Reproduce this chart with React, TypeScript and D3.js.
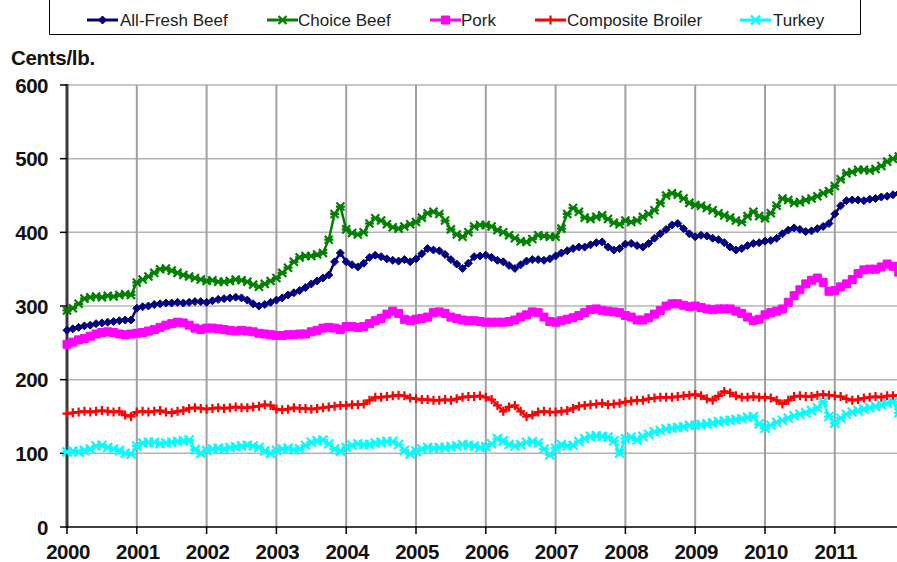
import React from "react";
import * as d3 from "d3";

const seriesNames = ["All-Fresh Beef", "Choice Beef", "Pork", "Composite Broiler", "Turkey"];
const yearTicks = [2000, 2001, 2002, 2003, 2004, 2005, 2006, 2007, 2008, 2009, 2010, 2011];
const yTicks = [0, 100, 200, 300, 400, 500, 600];

const allFreshBeef = [
  267, 269, 271, 273, 274, 276, 277, 278, 279, 280, 281, 281,
  297, 299, 300, 302, 303, 304, 304, 305, 304, 305, 306, 306,
  305, 307, 309, 310, 311, 312, 311, 308, 303, 300, 302, 305,
  308, 311, 315, 318, 321, 325, 330, 334, 338, 342, 360, 372,
  360, 356, 353, 358, 366, 369, 367, 364, 362, 361, 363, 360,
  364, 371, 378, 376, 375, 370, 363, 357, 351, 358, 367, 368,
  369, 366, 362, 360, 355, 351, 356, 361, 363, 363, 362, 364,
  368, 372, 375, 378, 380, 380, 383, 386, 387, 380, 376, 378,
  384, 385, 382, 380, 385, 392, 398, 404, 410, 412, 405, 398,
  394, 396, 395, 392, 390, 386, 380, 376, 378, 382, 385, 386,
  388, 389, 392, 398, 403, 406, 404, 401, 402, 405, 408, 412,
  425, 436, 443, 444, 444, 443, 445, 446, 448, 449, 451, 453,
];
const choiceBeef = [
  294, 297, 303, 310, 312, 313, 312, 314, 313, 315, 316, 315,
  332, 336, 340, 345, 350, 351, 348, 345, 342, 340, 338, 336,
  334, 335, 333, 333, 334, 336, 335, 333, 329, 326, 330, 334,
  338, 345, 352, 360, 366, 368, 368, 370, 372, 390, 425, 435,
  404, 399, 397, 400, 412, 419, 416, 411, 407, 405, 408, 411,
  414, 420, 426, 428, 425, 416, 404, 397, 394, 400, 408, 410,
  410, 408, 403, 400, 396, 392, 388, 387, 391, 396, 395, 394,
  394, 405, 425, 433, 428, 420, 418, 421, 423, 418, 413, 411,
  416, 414, 416, 421, 425, 430, 440, 450, 453, 451, 446, 440,
  437, 436, 433, 430, 426, 423, 420, 416, 414, 422, 428, 422,
  419, 426, 436, 446, 444, 440, 441, 444, 446, 449, 453, 456,
  463, 472, 480, 482, 485, 485, 484, 486, 490, 496, 500, 503,
];
const pork = [
  248, 251, 254, 256, 259, 262, 264, 265, 264, 262, 261, 262,
  263, 264, 266, 268, 271, 274, 276, 278, 277, 274, 270, 268,
  270, 270, 269, 268, 267, 266, 267, 266, 265, 263, 262, 261,
  260, 260, 261, 261, 262, 262, 265, 267, 270, 271, 270, 268,
  272, 272, 271, 272, 276, 280, 283, 289, 293, 290, 282, 280,
  282, 283, 285, 291, 292, 290, 285, 283, 281, 280, 280, 279,
  278, 278, 278, 278, 279, 281, 285, 288, 292, 291, 285, 279,
  278, 280, 282, 284, 287, 291, 295, 296, 294, 293, 292, 291,
  287, 285, 281, 281, 284, 289, 294, 300, 303, 303, 301, 299,
  300, 298, 296, 295, 296, 296, 296, 293, 290, 285, 280, 282,
  288, 291, 293, 296, 305, 314, 322, 330, 335, 338, 332, 320,
  321, 326, 330, 336, 344, 349, 350, 350, 353, 357, 354, 346,
];
const compositeBroiler = [
  154, 155, 156, 157, 156, 157, 158, 157, 156, 157, 152, 150,
  156, 157, 156, 157, 158, 156, 155, 157, 158, 161, 162, 161,
  160, 161, 162, 161, 162, 163, 162, 162, 163, 164, 166, 165,
  160, 159, 160, 162, 161, 161, 160, 161, 162, 163, 164, 165,
  165, 166, 166, 167, 172, 176, 176, 177, 178, 179, 178, 175,
  174, 173, 173, 172, 172, 173, 172, 174, 176, 177, 177, 178,
  176, 173, 165, 157, 163, 165, 157, 150, 152, 156, 157, 156,
  156, 157, 158, 161, 164, 165, 166, 167, 168, 166, 167, 168,
  170, 171, 172, 172, 174, 175, 176, 176, 176, 177, 178, 179,
  180, 178, 174, 172, 178, 184, 182, 178, 176, 176, 177, 176,
  176, 175, 172, 167, 172, 177, 178, 177, 177, 179, 180, 179,
  178, 177, 174, 172, 173, 175, 176, 177, 176, 178, 178, 179,
];
const turkey = [
  102, 103, 102, 104, 106, 110, 111, 108, 106, 104, 100, 99,
  110, 114, 115, 115, 113, 114, 115, 116, 117, 118, 105, 100,
  104, 106, 107, 106, 108, 109, 110, 111, 110, 108, 103, 100,
  104, 106, 107, 105, 106, 111, 115, 117, 118, 113, 106, 103,
  108, 111, 113, 112, 112, 114, 115, 116, 116, 112, 104, 99,
  103, 106, 108, 107, 108, 108, 109, 110, 112, 111, 110, 108,
  109, 113, 120, 117, 112, 110, 112, 115, 116, 114, 106, 98,
  107, 112, 110, 111, 116, 120, 123, 124, 123, 122, 117, 100,
  120, 122, 118, 123, 126, 129, 131, 133, 134, 135, 136, 138,
  138, 139, 140, 141, 143, 144, 145, 146, 147, 149, 150, 140,
  134, 138, 142, 145, 148, 151, 153, 155, 158, 162, 170, 150,
  141, 148, 153, 156, 158, 160, 162, 164, 166, 168, 170, 155,
];

const seriesValues = [allFreshBeef, choiceBeef, pork, compositeBroiler, turkey];
const colors = ["#000080", "#008000", "#ff00ff", "#ff0000", "#00ffff"];
const markerKinds = ["diamond", "asterisk", "square", "plus", "star"];

const W = 897;
const H = 562;
const FONT = "'Liberation Sans', Arial, Helvetica, sans-serif";

const x = d3.scaleLinear().domain([2000, 2012]).range([67, 904.6]);
const y = d3.scaleLinear().domain([0, 600]).range([527, 85]);

function markerPath(kind: string): string {
  switch (kind) {
    case "diamond":
      return "M0,-4L4,0L0,4L-4,0Z";
    case "square":
      return "M-4,-4H4V4H-4Z";
    case "plus":
      return "M-4.5,0H4.5M0,-4.5V4.5";
    case "asterisk":
      return "M-4,-4L4,4M-4,4L4,-4M-4.5,0H4.5";
    case "star":
      return "M-4.5,-4.5L4.5,4.5M-4.5,4.5L4.5,-4.5M-5,0H5";
    default:
      return "";
  }
}

function Marker({ kind, color, cx, cy }: { kind: string; color: string; cx: number; cy: number }) {
  const filled = kind === "diamond" || kind === "square";
  return (
    <path
      d={markerPath(kind)}
      transform={`translate(${cx},${cy})`}
      fill={filled ? color : "none"}
      stroke={color}
      strokeWidth={filled ? 1 : 2.2}
    />
  );
}

export default function App() {
  const line = d3
    .line<number>()
    .x((_, i) => x(2000 + i / 12))
    .y((d) => y(d));

  const legendItems = [
    { sx: 87, tx: 120 },
    { sx: 267, tx: 298 },
    { sx: 430, tx: 461 },
    { sx: 535, tx: 567 },
    { sx: 740, tx: 773 },
  ];

  return (
    <svg
      width={W}
      height={H}
      style={{ position: "absolute", left: 0, top: 0, background: "#fff" }}
      fontFamily={FONT}
    >
      <rect x={0} y={0} width={W} height={H} fill="#fff" />
      {/* legend box */}
      <path d="M49.5,0V34.5H860.5V0" fill="none" stroke="#000" strokeWidth={1} />
      {seriesNames.map((name, i) => (
        <g key={name}>
          <line
            x1={legendItems[i].sx}
            x2={legendItems[i].sx + 31}
            y1={20}
            y2={20}
            stroke={colors[i]}
            strokeWidth={3}
          />
          <Marker kind={markerKinds[i]} color={colors[i]} cx={legendItems[i].sx + 15.5} cy={20} />
          <text x={legendItems[i].tx} y={26} fontSize={17} fill="#222">
            {name}
          </text>
        </g>
      ))}

      {/* y axis title */}
      <text x={11} y={65} fontSize={20.5} fontWeight="bold" fill="#111" letterSpacing={-0.3}>
        Cents/lb.
      </text>

      {/* horizontal gridlines */}
      {yTicks.filter((t) => t > 0).map((t) => (
        <line key={"h" + t} x1={67} x2={W} y1={y(t)} y2={y(t)} stroke="#b4b4b4" strokeWidth={1.5} />
      ))}
      {/* vertical gridlines */}
      {yearTicks.filter((t) => t > 2000).map((t) => (
        <line key={"v" + t} x1={x(t)} x2={x(t)} y1={85} y2={527} stroke="#a0a0a0" strokeWidth={2} />
      ))}

      {/* y axis */}
      <line x1={67} x2={67} y1={84} y2={528} stroke="#3a3a3a" strokeWidth={3} />
      {yTicks.map((t) => (
        <g key={"yt" + t}>
          <line x1={60} x2={67} y1={y(t)} y2={y(t)} stroke="#000" strokeWidth={1.5} />
          <text
            x={48}
            y={y(t) + 7.5}
            textAnchor="end"
            fontSize={20.5}
            fontWeight="bold"
            fill="#111"
            letterSpacing={-0.5}
          >
            {t}
          </text>
        </g>
      ))}

      {/* x axis */}
      <line x1={66} x2={W} y1={527} y2={527} stroke="#000" strokeWidth={1.5} />
      {yearTicks.map((t) => (
        <g key={"xt" + t}>
          <line x1={x(t)} x2={x(t)} y1={527} y2={534} stroke="#000" strokeWidth={1.5} />
          <text
            x={x(t) + 1}
            y={559}
            textAnchor="middle"
            fontSize={20.5}
            fontWeight="bold"
            fill="#111"
            letterSpacing={-0.5}
          >
            {t}
          </text>
        </g>
      ))}

      {/* series */}
      {seriesValues.map((vals, si) => (
        <g key={"s" + si}>
          <path d={line(vals) || ""} fill="none" stroke={colors[si]} strokeWidth={2.5} />
          {vals.map((v, i) => (
            <Marker
              key={i}
              kind={markerKinds[si]}
              color={colors[si]}
              cx={x(2000 + i / 12)}
              cy={y(v)}
            />
          ))}
        </g>
      ))}
    </svg>
  );
}
